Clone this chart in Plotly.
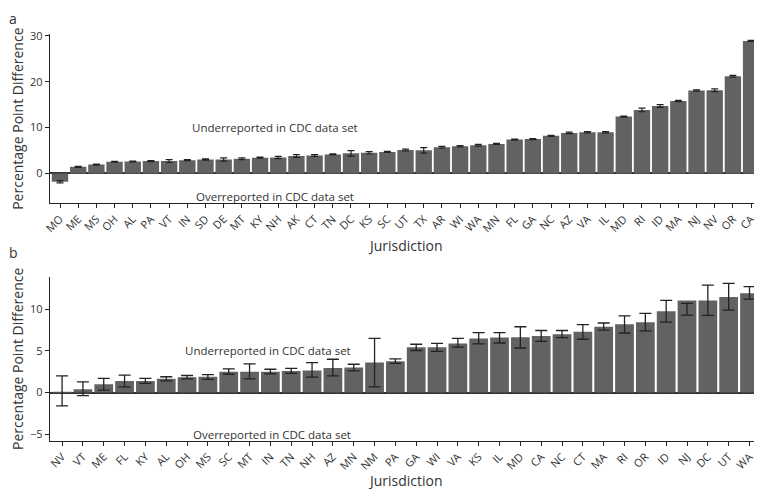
import plotly.graph_objects as go

# Panel a data
states_a = ["MO","ME","MS","OH","AL","PA","VT","IN","SD","DE","MT","KY","NH","AK","CT","TN","DC","KS","SC",
            "UT","TX","AR","WI","WA","MN","FL","GA","NC","AZ","VA","IL","MD","RI","ID","MA","NJ","NV","OR","CA"]
values_a = [-1.8,1.45,1.95,2.55,2.6,2.7,2.7,2.9,3.05,3.05,3.2,3.45,3.5,3.8,3.9,4.15,4.4,4.5,4.7,
            5.1,5.05,5.7,5.95,6.15,6.45,7.4,7.5,8.2,8.85,9.0,9.0,12.4,13.85,14.7,15.8,18.1,18.15,21.2,28.9]
errors_a = [0.25,0.12,0.12,0.1,0.1,0.1,0.3,0.1,0.15,0.35,0.2,0.12,0.25,0.3,0.2,0.12,0.6,0.25,0.1,
            0.2,0.6,0.2,0.15,0.2,0.1,0.12,0.12,0.1,0.15,0.15,0.15,0.12,0.4,0.3,0.15,0.15,0.3,0.2,0.1]

# Panel b data
states_b = ["NV","VT","ME","FL","KY","AL","OH","MS","SC","MT","IN","TN","NH","AZ","MN","NM","PA",
            "GA","WI","VA","KS","IL","MD","CA","NC","CT","MA","RI","OR","ID","NJ","DC","UT","WA"]
values_b = [0.1,0.4,1.0,1.4,1.4,1.65,1.85,1.9,2.5,2.5,2.5,2.6,2.65,2.95,3.0,3.6,3.75,
            5.45,5.45,5.9,6.5,6.6,6.65,6.8,7.0,7.3,7.9,8.2,8.45,9.75,11.05,11.05,11.45,11.9]
err_hi_b = [2.0,1.3,1.7,2.1,1.7,1.9,2.05,2.15,2.85,3.45,2.8,2.9,3.6,4.0,3.4,6.5,4.05,
            5.8,5.9,6.5,7.2,7.2,7.9,7.45,7.45,8.15,8.35,9.2,9.5,11.05,10.7,12.9,13.1,12.7]
err_lo_b = [-1.6,-0.35,0.3,0.7,1.1,1.4,1.65,1.6,2.2,1.65,2.25,2.3,1.85,2.0,2.6,0.7,3.5,
            5.05,4.95,5.45,5.85,5.95,5.35,6.15,6.6,6.4,7.5,7.15,7.4,8.45,9.3,9.25,9.9,11.2]

BAR = "#626262"
FONT = "Open Sans"
TXT = "#333333"

fig = go.Figure()

fig.add_trace(go.Bar(
    x=list(range(len(states_a))), y=values_a, width=0.9,
    marker=dict(color=BAR, line=dict(width=0)),
    error_y=dict(type="data", array=errors_a, color="#222222", thickness=1.2, width=3.5),
    xaxis="x", yaxis="y", showlegend=False, hoverinfo="skip"))

fig.add_trace(go.Bar(
    x=list(range(len(states_b))), y=values_b, width=0.9,
    marker=dict(color=BAR, line=dict(width=0)),
    xaxis="x2", yaxis="y2", showlegend=False, hoverinfo="skip"))

mid_b = [(h + l) / 2 for h, l in zip(err_hi_b, err_lo_b)]
half_b = [(h - l) / 2 for h, l in zip(err_hi_b, err_lo_b)]
fig.add_trace(go.Scatter(
    x=list(range(len(states_b))), y=mid_b, mode="markers",
    marker=dict(size=1, opacity=0),
    error_y=dict(type="data", array=half_b, color="#222222", thickness=1.3, width=6),
    xaxis="x2", yaxis="y2", showlegend=False, hoverinfo="skip"))

axis_common = dict(showline=True, linecolor="#222222", linewidth=1.3, ticks="outside",
                   ticklen=4, tickcolor="#222222", tickwidth=1, showgrid=False, automargin=False,
                   tickfont=dict(family=FONT, size=11, color=TXT))

# The page places the figure 8 px from the top-left corner of the window.
W, H = 754, 481
ML, MT, MB = 42, 26, 48

fig.update_layout(
    width=W, height=H,
    margin=dict(l=ML, r=0, t=MT, b=MB),
    plot_bgcolor="white", paper_bgcolor="white",
    font=dict(family=FONT, color=TXT),
    bargap=0.1,
    xaxis=dict(**axis_common, domain=[0, 1], anchor="y", range=[-0.55, 38.6],
               tickmode="array", tickvals=list(range(len(states_a))), ticktext=states_a,
               tickangle=-45, zeroline=False),
    yaxis=dict(**axis_common, domain=[0.584, 1], anchor="x", range=[-6.5, 30.4],
               tickvals=[0, 10, 20, 30], zeroline=True, zerolinecolor="#333333", zerolinewidth=1.5,
               title=dict(text="Percentage Point Difference", font=dict(family=FONT, size=14, color=TXT), standoff=6)),
    xaxis2=dict(**axis_common, domain=[0, 1], anchor="y2", range=[-0.58, 33.6],
                tickmode="array", tickvals=list(range(len(states_b))), ticktext=states_b,
                tickangle=-45, zeroline=False),
    yaxis2=dict(**axis_common, domain=[0, 0.4037], anchor="x2", range=[-5.8, 13.9],
                tickvals=[-5, 0, 5, 10], zeroline=True, zerolinecolor="#333333", zerolinewidth=1.5,
                title=dict(text="Percentage Point Difference", font=dict(family=FONT, size=14, color=TXT), standoff=6)),
)

ann_font = dict(family=FONT, size=11.5, color=TXT)
fig.add_annotation(x=11.8, y=10, xref="x", yref="y", text="Underreported in CDC data set",
                   showarrow=False, font=ann_font)
fig.add_annotation(x=11.8, y=-5.0, xref="x", yref="y", text="Overreported in CDC data set",
                   showarrow=False, font=ann_font)
fig.add_annotation(x=9.9, y=5.0, xref="x2", yref="y2", text="Underreported in CDC data set",
                   showarrow=False, font=ann_font)
fig.add_annotation(x=10.1, y=-5.0, xref="x2", yref="y2", text="Overreported in CDC data set",
                   showarrow=False, font=ann_font)

plot_h = H - MT - MB
plot_w = W - ML
def px(xp):  # window pixel -> paper x
    return (xp - 8 - ML) / plot_w
def py(yp):  # window pixel -> paper y
    return (H - MB - (yp - 8)) / plot_h
lab_font = dict(family=FONT, size=14, color=TXT)
fig.add_annotation(x=px(405), y=py(245), xref="paper", yref="paper", text="Jurisdiction",
                   xanchor="center", yanchor="middle", showarrow=False, font=lab_font)
fig.add_annotation(x=px(405), y=py(480), xref="paper", yref="paper", text="Jurisdiction",
                   xanchor="center", yanchor="middle", showarrow=False, font=lab_font)
fig.add_annotation(x=px(13), y=py(8.5), xref="paper", yref="paper", text="a", borderpad=0,
                   xanchor="center", yanchor="top", showarrow=False, font=lab_font)
fig.add_annotation(x=px(13), y=py(252), xref="paper", yref="paper", text="b",
                   xanchor="center", yanchor="middle", showarrow=False, font=lab_font)

fig.write_html("out.html")
